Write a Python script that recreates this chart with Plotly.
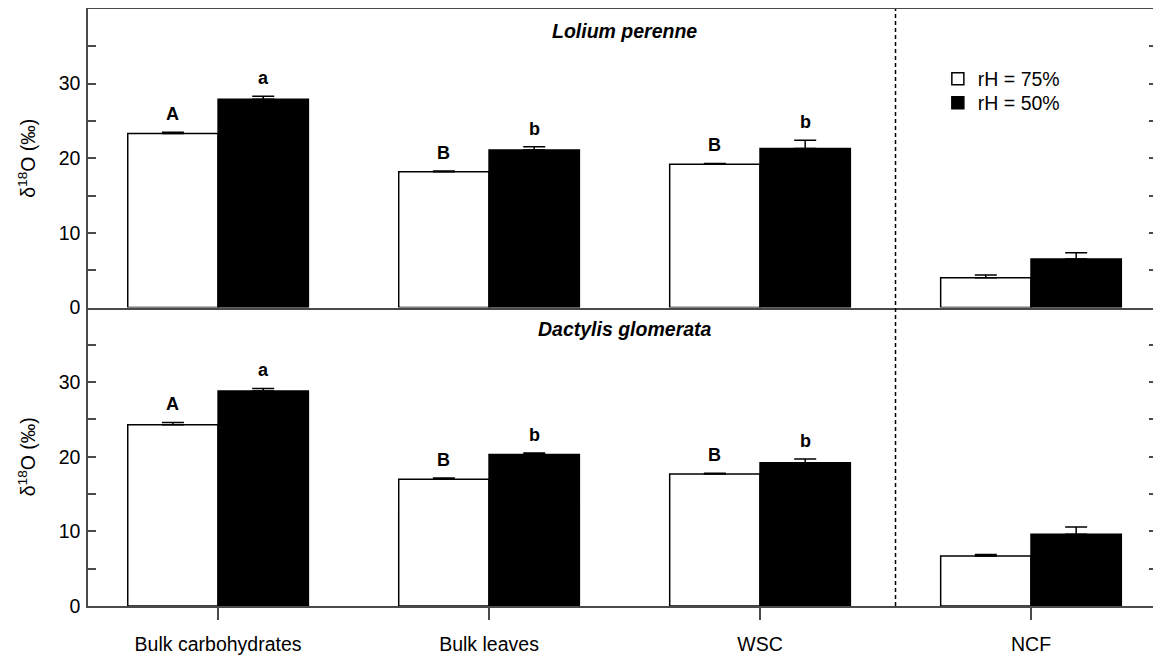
import plotly.graph_objects as go
from plotly.subplots import make_subplots

# ---------------- data ----------------
categories = ["Bulk carbohydrates", "Bulk leaves", "WSC", "NCF"]
series_names = ["rH = 75%", "rH = 50%"]

lolium_75 = [23.3, 18.2, 19.2, 4.0]
lolium_75_se = [0.2, 0.1, 0.1, 0.35]
lolium_50 = [27.9, 21.1, 21.3, 6.5]
lolium_50_se = [0.4, 0.45, 1.1, 0.85]

dactylis_75 = [24.3, 17.0, 17.7, 6.7]
dactylis_75_se = [0.3, 0.15, 0.1, 0.2]
dactylis_50 = [28.8, 20.3, 19.2, 9.6]
dactylis_50_se = [0.35, 0.2, 0.5, 1.0]

letters_75 = ["A", "B", "B", ""]
letters_50 = ["a", "b", "b", ""]

panel_titles = ["Lolium perenne", "Dactylis glomerata"]
y_ticks = [0, 10, 20, 30]

# ---------------- style ----------------
FONT = "Liberation Sans, Arial, sans-serif"
AXIS_COLOR = "#4a4a4a"
fills = ["white", "black"]
legend_ids = ["legend", "legend2"]
x_pos = list(range(len(categories)))

fig = make_subplots(rows=2, cols=1, shared_xaxes=True, vertical_spacing=0)

panels = [
    (lolium_75, lolium_75_se, lolium_50, lolium_50_se),
    (dactylis_75, dactylis_75_se, dactylis_50, dactylis_50_se),
]

for r, (v75, e75, v50, e50) in enumerate(panels, start=1):
    for i, (vals, errs) in enumerate([(v75, e75), (v50, e50)]):
        fig.add_trace(
            go.Bar(
                x=x_pos,
                y=vals,
                name=series_names[i],
                showlegend=(r == 1),
                legend=legend_ids[i],
                marker=dict(color=fills[i], line=dict(color="black", width=1.5)),
                error_y=dict(
                    type="data", array=errs, arrayminus=[0] * len(errs),
                    symmetric=False, color="black", thickness=1.5, width=11,
                ),
            ),
            row=r, col=1,
        )
    # significance letters
    for i, (vals, errs, labs) in enumerate([(v75, e75, letters_75), (v50, e50, letters_50)]):
        off = -1 / 6 if i == 0 else 1 / 6
        for k, lab in enumerate(labs):
            if not lab:
                continue
            fig.add_annotation(
                x=x_pos[k] + off, y=vals[k] + errs[k],
                xref="x" if r == 1 else "x2", yref="y" if r == 1 else "y2",
                text="<b>%s</b>" % lab, showarrow=False,
                yanchor="middle", yshift=18,
                font=dict(family=FONT, size=18, color="black"),
            )
    # panel title
    fig.add_annotation(
        x=1.5, y=37.1,
        xref="x" if r == 1 else "x2", yref="y" if r == 1 else "y2",
        text="<b><i>%s</i></b>" % panel_titles[r - 1], showarrow=False,
        yanchor="middle",
        font=dict(family=FONT, size=19.5, color="black"),
    )

legend_style = dict(
    xanchor="left", yanchor="middle",
    bgcolor="rgba(0,0,0,0)", font=dict(family=FONT, size=19.5, color="black"),
    itemwidth=30,
)

fig.update_layout(
    barmode="group",
    bargap=1 / 3,
    bargroupgap=0,
    width=1153,
    height=649,
    margin=dict(l=80, r=4, t=1, b=51, autoexpand=False),
    plot_bgcolor="white",
    paper_bgcolor="white",
    font=dict(family=FONT, size=19.5, color="black"),
    legend=dict(x=0.795, y=0.8827, **legend_style),
    legend2=dict(x=0.795, y=0.8425, **legend_style),
)

xaxis_common = dict(
    range=[-0.48, 3.465],
    showline=True, linecolor=AXIS_COLOR, linewidth=1.5,
    showgrid=False, zeroline=False, automargin=False,
    tickvals=x_pos, ticktext=categories,
)
fig.update_xaxes(**xaxis_common, mirror=True, ticks="", showticklabels=False, row=1, col=1)
fig.update_xaxes(**xaxis_common, mirror=False, ticks="outside", ticklen=12, tickwidth=1.5,
                 tickcolor=AXIS_COLOR, showticklabels=True, ticklabelstandoff=8,
                 tickfont=dict(family=FONT, size=19.5, color="black"), row=2, col=1)

fig.update_yaxes(
    range=[0, 40],
    tickvals=y_ticks,
    ticks="inside", ticklen=8, tickwidth=1.5, tickcolor=AXIS_COLOR,
    minor=dict(tickvals=[5, 15, 25, 35], ticks="inside", ticklen=8,
               tickwidth=1.5, tickcolor=AXIS_COLOR, showgrid=False),
    showline=True, linecolor=AXIS_COLOR, linewidth=1.5, mirror="ticks",
    showgrid=False, zeroline=False, automargin=False, ticklabelstandoff=2,
    tickfont=dict(family=FONT, size=19.5, color="black"),
    title=dict(text="δ<sup>18</sup>O (‰)", font=dict(family=FONT, size=19.5, color="black"),
               standoff=18),
)

# dashed separator between the carbohydrate groups and NCF
fig.add_shape(
    type="line", x0=2.5, x1=2.5, y0=0, y1=1, xref="x", yref="paper",
    line=dict(color="black", width=1.5, dash="4px,3px"),
)

fig.write_html("out.html")
